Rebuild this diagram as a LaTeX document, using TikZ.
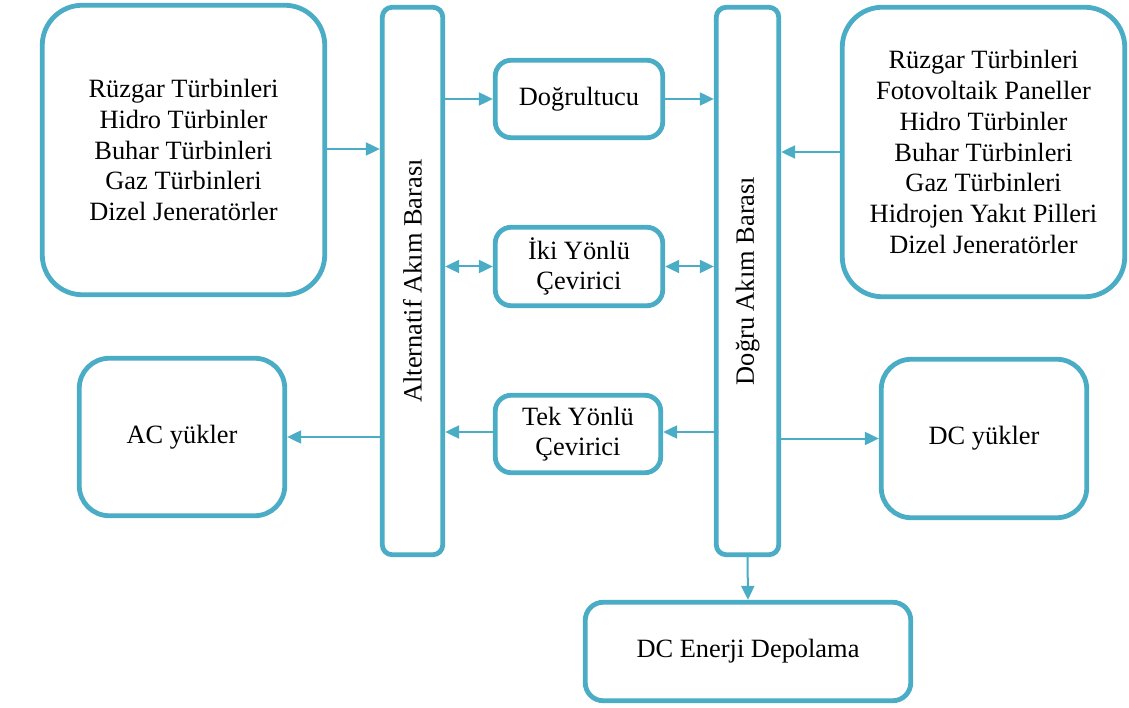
\documentclass[tikz,border=0pt]{standalone}
\usepackage{fontspec}
\newfontfamily\tnr{LiberationSerif}[Extension=.ttf, UprightFont=*-Regular, BoldFont=*-Bold]
\usetikzlibrary{arrows.meta}
\definecolor{aqua}{HTML}{4BACC6}
\tikzset{
  box/.style={draw=aqua, line width=4.8pt, fill=white, align=center, inner sep=0pt,
              font=\tnr\fontsize{26.4}{30.7}\selectfont},
  bus/.style={draw=aqua, line width=4.8pt, fill=white, rounded corners=10pt, inner sep=0pt},
  arr/.style={draw=aqua, line width=2pt, -{Triangle[length=14pt,width=13pt]}},
  darr/.style={draw=aqua, line width=2pt, {Triangle[length=14pt,width=13pt]}-{Triangle[length=14pt,width=13pt]}},
  lbl/.style={font=\tnr\fontsize{26.4}{30.7}\selectfont, inner sep=0pt}
}
\begin{document}
\begin{tikzpicture}[x=1pt,y=-1pt]
\useasboundingbox (0,0) rectangle (1129,708);

% buses
\node[bus, minimum width=60.5pt, minimum height=547.5pt] (acbus) at (412.5,281) {};
\node[lbl, rotate=90] (aclbl) at (acbus.center) {Alternatif Akım Barası};
\node[bus, minimum width=62.5pt, minimum height=547.5pt] (dcbus) at (747.5,281) {};
\node[lbl, rotate=90] (dclbl) at (dcbus.center) {Doğru Akım Barası};

% sources
\node[box, rounded corners=40pt, minimum width=282.5pt, minimum height=289.5pt] (lsrc) at (183.5,150)
  {Rüzgar Türbinleri\\Hidro Türbinler\\Buhar Türbinleri\\Gaz Türbinleri\\Dizel Jeneratörler};
\node[box, rounded corners=40pt, minimum width=282.5pt, minimum height=289.5pt] (rsrc) at (983.5,152)
  {Rüzgar Türbinleri\\Fotovoltaik Paneller\\Hidro Türbinler\\Buhar Türbinleri\\Gaz Türbinleri\\Hidrojen Yakıt Pilleri\\Dizel Jeneratörler};

% converters
\node[box, rounded corners=16pt, minimum width=167.5pt, minimum height=77.5pt] (rect) at (579,99) {Doğrultucu};
\node[box, rounded corners=16pt, minimum width=167.5pt, minimum height=78.5pt] (iki) at (579,266.5) {İki Yönlü\\Çevirici};
\node[box, rounded corners=16pt, minimum width=165.5pt, minimum height=77.5pt] (tek) at (578,434) {Tek Yönlü\\Çevirici};

% loads
\node[box, rounded corners=30pt, minimum width=205.5pt, minimum height=157.5pt] (acload) at (182,437) {AC yükler};
\node[box, rounded corners=30pt, minimum width=205.5pt, minimum height=158.5pt] (dcload) at (984,438.5) {DC yükler};
\node[box, rounded corners=18pt, minimum width=325.5pt, minimum height=98.5pt] (store) at (748,651.5) {DC Enerji Depolama};

% level coordinates
\coordinate (yA) at (0,149);
\coordinate (yT) at (0,432);

% connectors
\draw[arr] (lsrc.east |- yA) -- (acbus.west |- yA);
\draw[arr] (acbus.east |- rect.west) -- (rect.west);
\draw[arr] (rect.east) -- (dcbus.west |- rect.east);
\draw[arr] (rsrc.west) -- (dcbus.east |- rsrc.west);
\draw[darr] (acbus.east |- iki.west) -- (iki.west);
\draw[darr] (iki.east) -- (dcbus.west |- iki.east);
\draw[arr] (acbus.west |- acload.east) -- (acload.east);
\draw[arr] (tek.west |- yT) -- (acbus.east |- yT);
\draw[arr] (dcbus.west |- yT) -- (tek.east |- yT);
\draw[arr] (dcbus.east |- dcload.west) -- (dcload.west);
\draw[arr] (dcbus.south) -- (store.north);
\end{tikzpicture}
\end{document}
